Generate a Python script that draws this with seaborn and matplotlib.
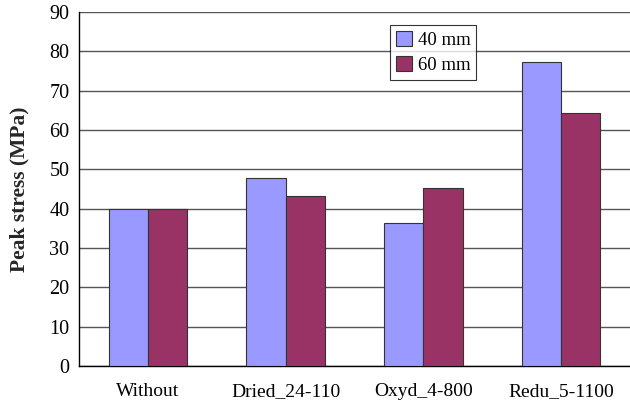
import matplotlib
matplotlib.use("Agg")
import matplotlib.pyplot as plt
import seaborn as sns
import pandas as pd

categories = ["Without", "Dried_24-110", "Oxyd_4-800", "Redu_5-1100"]
series_names = ["40 mm", "60 mm"]
values_40 = [39.8, 47.8, 36.4, 77.3]
values_60 = [40.0, 43.2, 45.3, 64.2]
y_ticks = [0, 10, 20, 30, 40, 50, 60, 70, 80, 90]

df = pd.DataFrame({
    "Category": categories * 2,
    "Series": [series_names[0]] * 4 + [series_names[1]] * 4,
    "Value": values_40 + values_60,
})

sns.set_theme(style="white")
plt.rcParams["font.family"] = ["Liberation Serif", "DejaVu Serif"]

fig = plt.figure(figsize=(6.3, 4.05), dpi=100)
ax = fig.add_axes([79 / 630, 1 - 366 / 405, 1 - 79 / 630, (366 - 12) / 405])

sns.barplot(data=df, x="Category", y="Value", hue="Series",
            palette=["#9999FF", "#993366"], width=0.57, gap=0,
            edgecolor="#333333", linewidth=0.8, saturation=1, ax=ax, zorder=3)

ax.set_ylim(0, 90)
ax.set_yticks(y_ticks)
ax.set_xlim(-0.5, 3.478)
ax.yaxis.grid(True, color="#555555", linewidth=1.0, zorder=0)
ax.set_axisbelow(True)

for s in ["top", "right"]:
    ax.spines[s].set_visible(False)
for s in ["left", "bottom"]:
    ax.spines[s].set_color("black")
    ax.spines[s].set_linewidth(1.0)

ax.set_xticks(range(4))
ax.set_xticklabels(categories, fontsize=14)
ax.tick_params(axis="x", length=0, pad=12, colors="black")
# group boundary ticks
ax.set_xticks([-0.5, 0.5, 1.5, 2.5, 3.5], minor=True)
ax.tick_params(axis="x", which="minor", length=5, width=1, direction="out", color="black")
ax.tick_params(axis="y", length=5, width=1, direction="out", colors="black", labelsize=14.5, pad=2)

ax.set_xlabel("")
ax.set_ylabel("Peak stress (MPa)", fontsize=15.5, fontweight="bold", labelpad=14)

leg = ax.legend(loc="upper left", bbox_to_anchor=((390 - 79) / 551, 1 - (25 - 12) / 354),
                frameon=True, fancybox=False, edgecolor="black", fontsize=13.5,
                handlelength=0.85, handleheight=0.85, handletextpad=0.35,
                borderpad=0.3, labelspacing=0.4, borderaxespad=0)
leg.get_frame().set_linewidth(0.8)
for t in leg.get_texts():
    t.set_color("black")

fig.savefig("out.png", dpi=100)
